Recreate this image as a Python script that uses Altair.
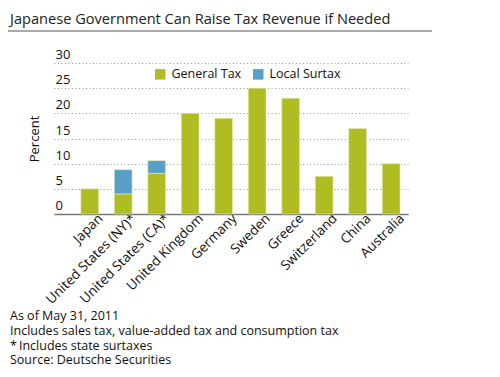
import altair as alt
import pandas as pd

countries = ["Japan", "United States (NY)*", "United States (CA)*", "United Kingdom",
             "Germany", "Sweden", "Greece", "Switzerland", "China", "Australia"]
general_tax = [5, 4, 8.1, 20, 19, 25, 23, 7.5, 17, 10]
local_surtax = [0, 4.8, 2.5, 0, 0, 0, 0, 0, 0, 0]
series = ["General Tax", "Local Surtax"]
colors = ["#AFBC22", "#569FC6"]
y_ticks = [0, 5, 10, 15, 20, 25, 30]
title_text = "Japanese Government Can Raise Tax Revenue if Needed"
footnotes = ["As of May 31, 2011",
             "Includes sales tax, value-added tax and consumption tax",
             "*\u2009Includes state surtaxes",
             "Source: Deutsche Securities"]

rows = []
for i, c in enumerate(countries):
    rows.append({"country": c, "series": series[0], "value": general_tax[i], "order": 0})
    if local_surtax[i] > 0:
        rows.append({"country": c, "series": series[1], "value": local_surtax[i], "order": 1})
df = pd.DataFrame(rows)

FONT = "Open Sans"

bars = alt.Chart(df).mark_bar(stroke="#e8efb0", strokeWidth=0.6).encode(
    x=alt.X("country:N", sort=countries,
            scale=alt.Scale(paddingInner=0.47, paddingOuter=0.52, align=0.77),
            axis=alt.Axis(title=None, labelAngle=-45, labelAlign="right",
                          labelBaseline="middle", labelOffset=11, labelPadding=2,
                          ticks=False, domainColor="#777777", domainWidth=1.5,
                          labelFontSize=13.5, labelColor="#111111", labelFont=FONT)),
    y=alt.Y("value:Q", stack="zero",
            scale=alt.Scale(domain=[0, 30], nice=False),
            axis=alt.Axis(title="Percent", values=y_ticks, ticks=False, domain=False,
                          grid=True, gridDash=[1, 2.5], gridColor="#999999",
                          labelAlign="left", labelPadding=-1, labelBaseline="bottom",
                          labelOffset=-1.5, labelFontSize=13, labelColor="#111111",
                          labelFont=FONT, titleFont=FONT, titleFontWeight="normal",
                          titleFontSize=13, titleColor="#111111", titlePadding=13)),
    color=alt.Color("series:N", scale=alt.Scale(domain=series, range=colors),
                    legend=alt.Legend(title=None, orient="none", direction="horizontal",
                                      legendX=100, legendY=5, symbolType="square",
                                      symbolSize=110, symbolStrokeWidth=0,
                                      labelFontSize=12.5, labelFont=FONT,
                                      labelColor="#111111", columnPadding=10,
                                      labelOffset=5)),
    order=alt.Order("order:Q"),
)

underline = alt.Chart(pd.DataFrame({"a": [0]})).mark_rule(color="#555555", strokeWidth=1).encode(
    x=alt.value(-46), x2=alt.value(378), y=alt.value(-32)
)

layers = [bars, underline]
for i, line in enumerate(footnotes):
    layers.append(
        alt.Chart(pd.DataFrame({"a": [0]})).mark_text(
            align="left", baseline="alphabetic", fontSize=12.5, font=FONT, color="#111111"
        ).encode(x=alt.value(-44), y=alt.value(257 + 14.8 * i), text=alt.value(line))
    )

chart = alt.layer(*layers).properties(
    width=354, height=151,
    title=alt.TitleParams(title_text, anchor="start", frame="group", dx=-44, offset=4,
                          fontSize=14.6, font=FONT, fontWeight="normal", color="#222222"),
    autosize=alt.AutoSizeParams(type="none"),
    padding={"left": 46, "top": 55, "right": 84, "bottom": 160},
).configure_view(stroke=None)

chart.save("out.html", embed_options={"renderer": "svg", "actions": False})
